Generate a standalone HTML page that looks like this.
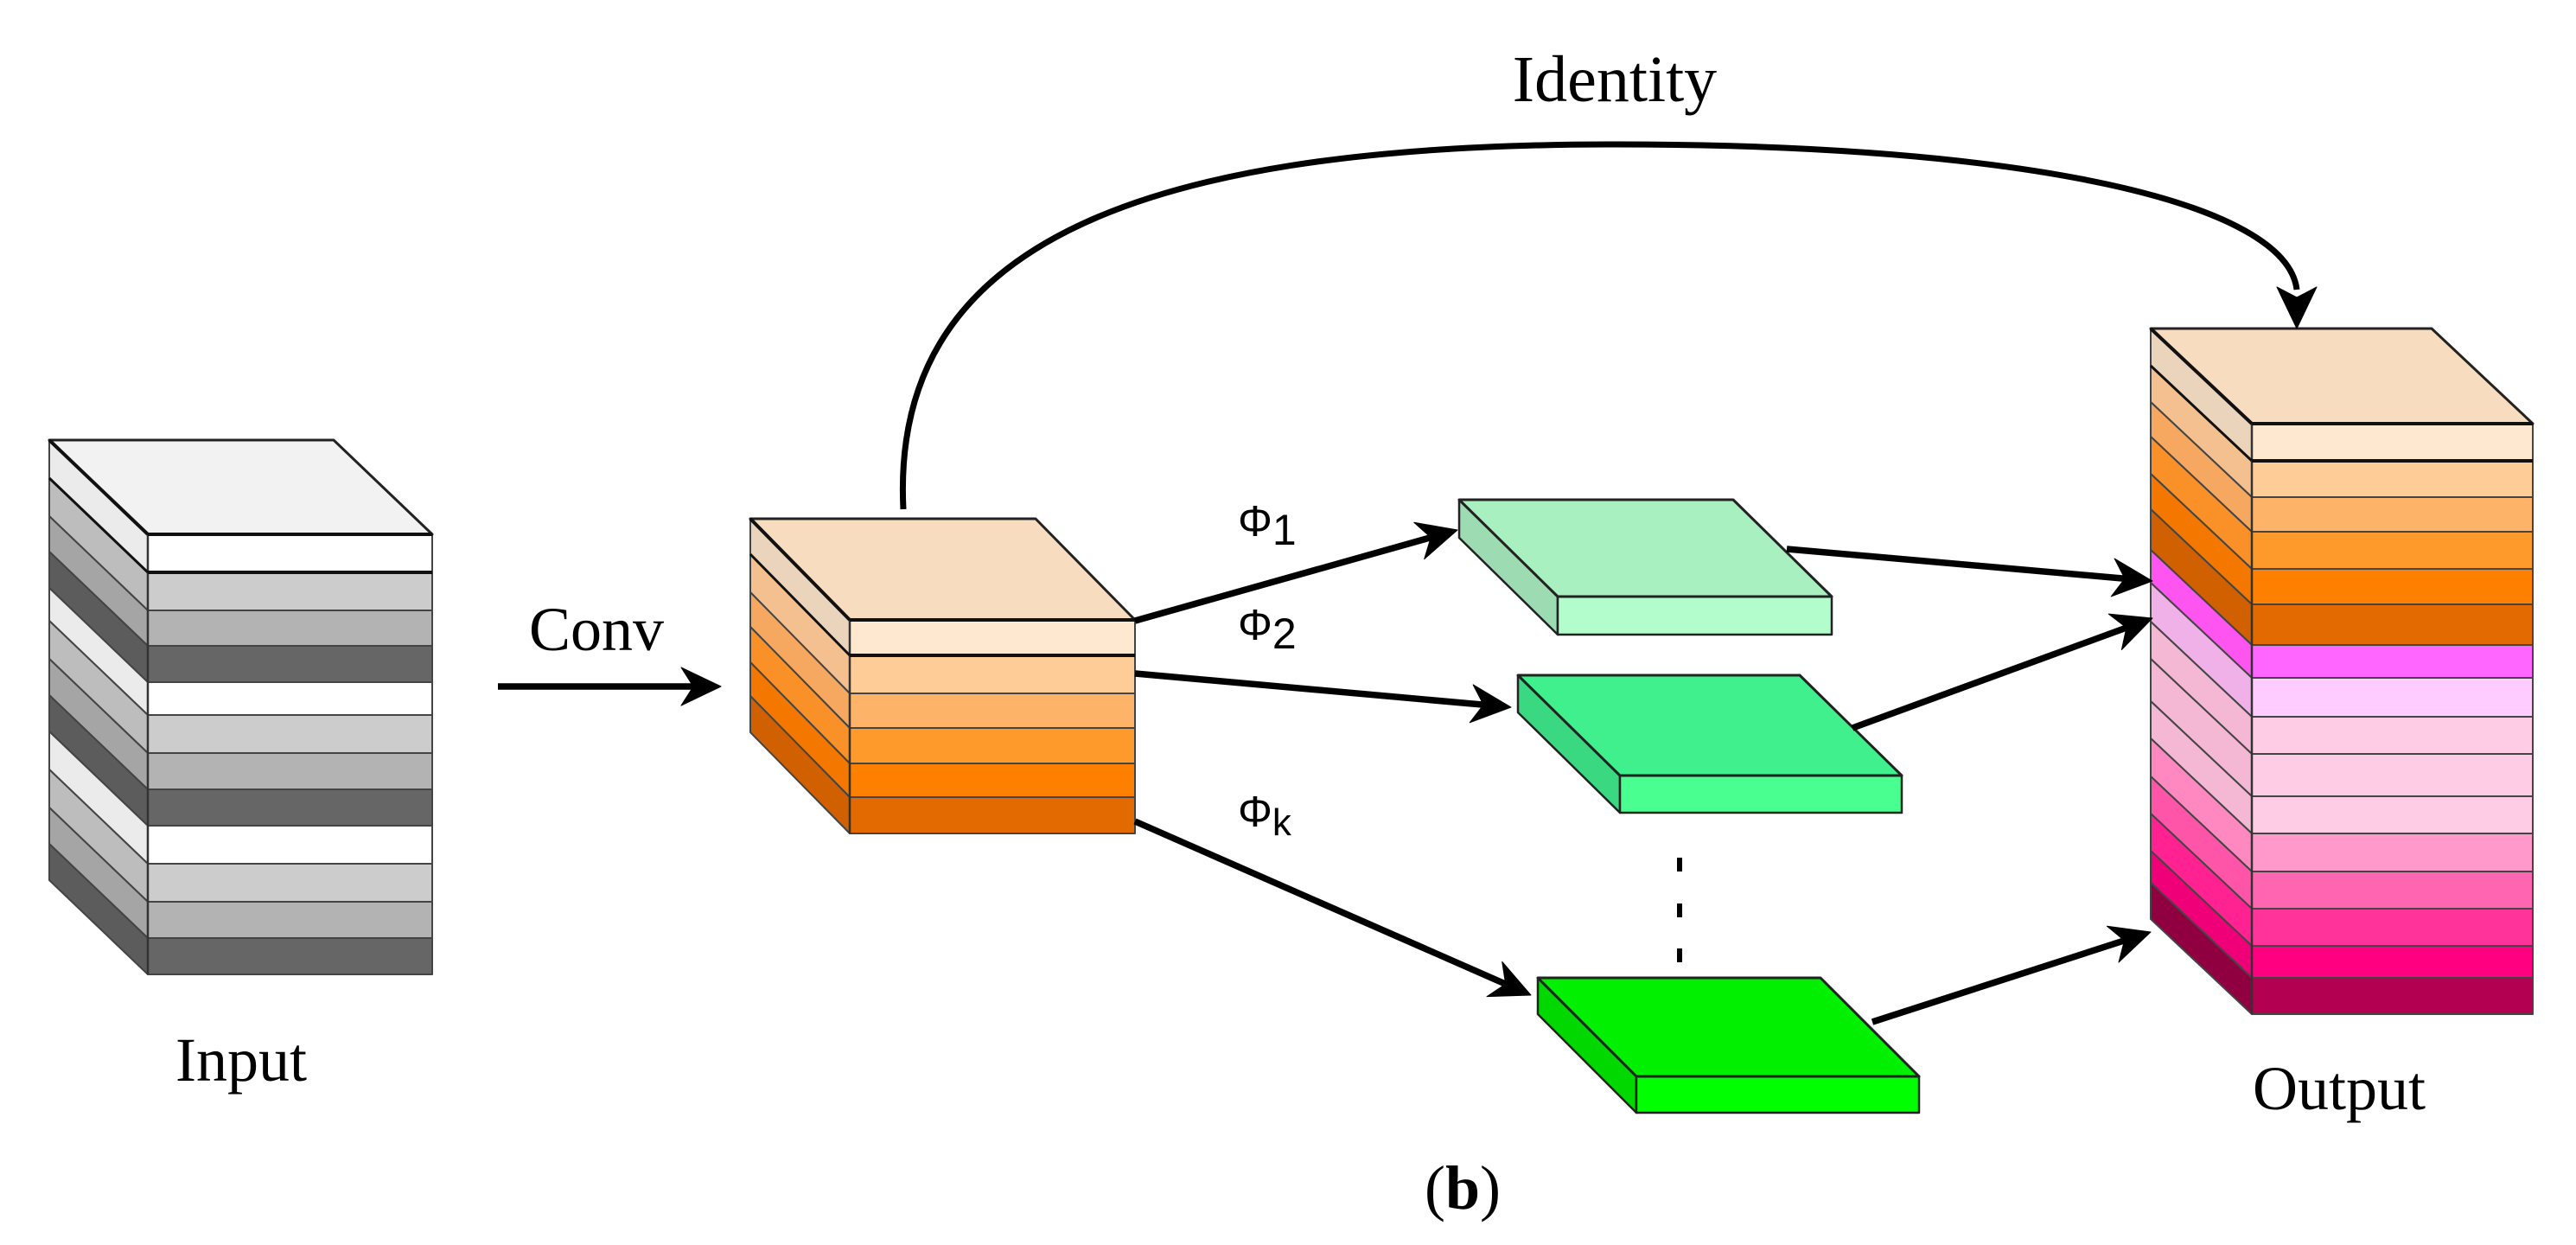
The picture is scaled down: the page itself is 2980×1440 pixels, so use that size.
<!DOCTYPE html>
<html><head><meta charset="utf-8"><style>
html,body{margin:0;padding:0;background:#fff;}
svg{display:block;}
.serif{font-family:"Liberation Serif",serif;}
.sans{font-family:"Liberation Sans",sans-serif;}
</style></head><body>
<svg id="s" width="2980" height="1440" viewBox="0 0 2980 1440" xmlns="http://www.w3.org/2000/svg">
<g id="shapes"></g>
<text class="serif" x="1868" y="117" font-size="76" text-anchor="middle">Identity</text>
<text class="serif" x="690" y="752" font-size="72" text-anchor="middle">Conv</text>
<text class="serif" x="279" y="1250" font-size="72" text-anchor="middle">Input</text>
<text class="serif" x="2706" y="1283" font-size="72" text-anchor="middle">Output</text>
<text class="serif" x="1692" y="1398" font-size="72" text-anchor="middle">(<tspan font-weight="bold">b</tspan>)</text>
<text class="sans" x="1432" y="620" font-size="50">Φ<tspan font-size="50" dy="10">1</tspan></text>
<text class="sans" x="1432" y="740" font-size="50">Φ<tspan font-size="50" dy="10">2</tspan></text>
<text class="sans" x="1432" y="956" font-size="50">Φ<tspan font-size="44" dy="10">k</tspan></text>
</svg>
<script>
var NS="http://www.w3.org/2000/svg",g=document.getElementById('shapes');
function el(t,a){var e=document.createElementNS(NS,t);for(var k in a)e.setAttribute(k,a[k]);g.appendChild(e);return e;}
function poly(p,fill,sw,stroke){el('polygon',{points:p.map(function(q){return q.join(',')}).join(' '),fill:fill,stroke:stroke||'#222','stroke-width':sw||2,'stroke-linejoin':'round'});}
function block(L,F,FR,D,ys,front,side,topc){
  var top=ys[0],BR=FR-(F-L);
  for(var i=0;i<ys.length-1;i++){
    poly([[L,ys[i]-D],[F,ys[i]],[F,ys[i+1]],[L,ys[i+1]-D]],side[i],2,'#444');
    poly([[F,ys[i]],[FR,ys[i]],[FR,ys[i+1]],[F,ys[i+1]]],front[i],2,'#444');
  }
  poly([[L,top-D],[BR,top-D],[FR,top],[F,top]],topc,3,'#222');
  el('line',{x1:F,y1:top,x2:F,y2:ys[ys.length-1],stroke:'#333','stroke-width':2.5});
  el('line',{x1:F,y1:top,x2:FR,y2:top,stroke:'#111','stroke-width':4});
  el('line',{x1:F,y1:ys[1],x2:FR,y2:ys[1],stroke:'#111','stroke-width':4});
  el('line',{x1:L,y1:top-D,x2:F,y2:top,stroke:'#111','stroke-width':4});
  el('line',{x1:L,y1:ys[1]-D,x2:F,y2:ys[1],stroke:'#111','stroke-width':3});
}
block(57,171,500,109,[618,662,706,747,789,827,871,913,955,999,1043,1085,1127],
 ['#fff','#ccc','#b3b3b3','#666','#fff','#ccc','#b3b3b3','#666','#fff','#ccc','#b3b3b3','#666'],
 ['#ebebeb','#bdbdbd','#a5a5a5','#5c5c5c','#ebebeb','#bdbdbd','#a5a5a5','#5c5c5c','#ebebeb','#bdbdbd','#a5a5a5','#5c5c5c'],'#f2f2f2');
block(868,983,1313,117,[717,758,802,842,883,922,964],
 ['#fee8d0','#fecc96','#feb468','#fe9a2c','#fe8000','#e36a00'],
 ['#ebd4bc','#f5c090','#f6a860','#fa9028','#f47800','#d06000'],'#f8dcc0');
block(2488,2605,2930,110,[490,533,575,615,658,699,746,784,829,872,921,964,1008,1051,1094,1131,1173],
 ['#fee8d0','#fecc96','#feb468','#fe9a2c','#fe8000','#e36a00','#ff66ff','#ffccff','#ffcce6','#ffcce6','#ffcce6','#ff99cc','#ff66b2','#ff3399','#ff0080','#b30050'],
 ['#ebd4bc','#f5c090','#f6a860','#fa9028','#f47800','#d06000','#ff55f0','#f0b0e8','#f4b8d4','#f4b8d4','#f4b8d4','#ff88c0','#ff55a8','#ff2290','#f00078','#900040'],'#f8dcc0');
function slab(L,F,FR,D,t,b,topc,front,side){
  var BR=FR-(F-L);
  poly([[L,t-D],[F,t],[F,b],[L,b-D]],side,2.5,'#222');
  poly([[F,t],[FR,t],[FR,b],[F,b]],front,2.5,'#222');
  poly([[L,t-D],[BR,t-D],[FR,t],[F,t]],topc,3,'#222');
}
slab(1688,1802,2119,112,690,734,'#a8f0c0','#b3fccc','#9ddbb3');
slab(1756,1874,2200,116,897,940,'#40f08c','#48ff90','#3ad880');
slab(1779,1893,2220,114,1245,1287,'#00f000','#00ff00','#00d800');
function arrow(x1,y1,x2,y2){
  var dx=x2-x1,dy=y2-y1,l=Math.sqrt(dx*dx+dy*dy),ux=dx/l,uy=dy/l,px=-uy,py=ux;
  var hl=46,hw=22,n=14;
  el('line',{x1:x1,y1:y1,x2:x2-ux*(hl-n),y2:y2-uy*(hl-n),stroke:'#000','stroke-width':7.5});
  poly([[x2,y2],[x2-ux*hl+px*hw,y2-uy*hl+py*hw],[x2-ux*(hl-n),y2-uy*(hl-n)],[x2-ux*hl-px*hw,y2-uy*hl-py*hw]],'#000',1,'#000');
}
arrow(576,794,834,794);
arrow(1313,718,1686,613);
arrow(1313,779,1748,818);
arrow(1313,950,1771,1151);
arrow(2067,635,2490,672);
arrow(2143,842,2490,715);
arrow(2166,1182,2488,1078);
el('path',{d:'M1045,589 C1030,290 1300,168 1860,167 C2350,166 2645,235 2657,335',fill:'none',stroke:'#000','stroke-width':7});
poly([[2657,380],[2634,332],[2657,344],[2680,332]],'#000',1,'#000');
[1000,1053,1105].forEach(function(y){el('rect',{x:1940,y:y-8,width:6,height:16,fill:'#000'});});
</script>
</body></html>
